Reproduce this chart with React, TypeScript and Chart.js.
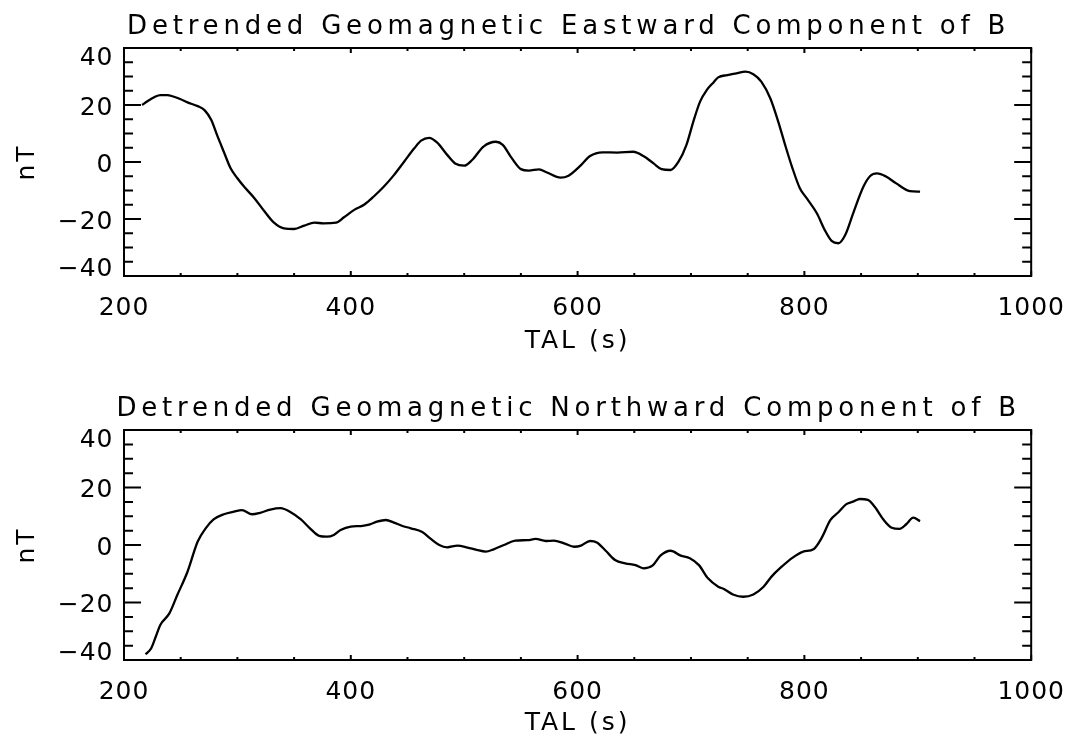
import React, { useEffect, useRef } from 'react';
import { Chart, registerables } from 'chart.js';

Chart.register(...registerables);

const X_MIN = 200;
const X_MAX = 1000;
const Y_MIN = -40;
const Y_MAX = 40;
const xTickValues = [200, 400, 600, 800, 1000];
const xMinorStep = 50;
const yTickValues = [-40, -20, 0, 20, 40];
const yMinorStep = 5;

const xAxisTitle = 'TAL (s)';
const yAxisTitle = 'nT';
const eastTitle = 'Detrended Geomagnetic Eastward Component of B';
const northTitle = 'Detrended Geomagnetic Northward Component of B';

const eastTime = [
  216, 221, 227, 232, 238, 244, 250, 256, 265, 271, 277, 282, 288, 294, 300, 306, 315, 324, 332, 341,
  350, 359, 368, 376, 387, 394, 403, 412, 420, 429, 438, 447, 456, 462, 469, 476, 485, 492, 500, 507,
  517, 528, 534, 541, 550, 557, 566, 573, 585, 592, 603, 611, 622, 635, 649, 658, 667, 674, 682, 689,
  696, 702, 708, 714, 720, 724, 732, 740, 748, 755, 762, 770, 777, 783, 789, 796, 802, 811, 818, 824,
  830, 836, 843, 852, 858, 864, 872, 881, 893, 902,
];
const eastField = [
  20.0, 21.4, 22.8, 23.5, 23.5, 22.9, 22.0, 20.9, 19.6, 18.2, 14.7, 9.5, 3.6, -2.2, -5.7, -8.7, -12.7, -17.4, -21.2, -23.3,
  -23.5, -22.3, -21.3, -21.5, -21.3, -19.4, -16.8, -14.9, -12.2, -8.7, -4.6, 0.1, 4.8, 7.5, 8.5, 6.9, 2.5, -0.5, -1.3, 0.7,
  5.4, 7.1, 6.0, 1.9, -2.5, -3.0, -2.6, -3.7, -5.5, -4.8, -1.1, 2.1, 3.4, 3.3, 3.6, 2.1, -0.5, -2.5, -2.8, 0.1,
  6.0, 14.1, 21.2, 25.3, 28.0, 29.7, 30.5, 31.1, 31.7, 30.8, 28.2, 22.3, 14.1, 6.0, -1.6, -9.2, -12.7, -18.0, -23.9, -27.7,
  -28.5, -25.6, -18.0, -8.7, -4.9, -4.0, -5.1, -7.5, -10.2, -10.4,
];

const northTime = [
  219, 224, 228, 232, 240, 247, 256, 265, 272, 279, 288, 297, 304, 313, 320, 329, 338, 347, 356, 364,
  372, 379, 385, 391, 400, 409, 417, 423, 431, 438, 445, 453, 463, 470, 478, 485, 494, 503, 511, 519,
  526, 535, 545, 556, 563, 572, 579, 588, 597, 603, 611, 617, 625, 633, 642, 651, 658, 666, 673, 682,
  691, 699, 707, 715, 724, 729, 737, 746, 755, 764, 771, 779, 790, 799, 808, 815, 823, 830, 837, 843,
  849, 856, 862, 870, 877, 884, 890, 896, 902,
];
const northField = [
  -38.0, -35.9, -31.9, -27.8, -23.8, -17.4, -9.3, 1.2, 5.8, 8.9, 10.7, 11.6, 12.1, 10.7, 11.2, 12.3, 12.8, 11.4, 8.9, 5.8,
  3.2, 2.9, 3.5, 5.2, 6.4, 6.6, 7.2, 8.1, 8.7, 7.8, 6.7, 5.8, 4.5, 2.3, 0.0, -0.8, -0.2, -0.9, -1.7, -2.3,
  -1.5, 0.0, 1.5, 1.7, 2.1, 1.4, 1.5, 0.6, -0.6, -0.2, 1.4, 0.9, -2.1, -5.2, -6.4, -7.0, -8.1, -7.2, -3.7, -2.0,
  -3.7, -4.6, -7.0, -11.6, -14.5, -15.3, -17.2, -18.0, -17.2, -14.5, -11.0, -7.9, -4.3, -2.3, -1.5, 2.3, 8.7, 11.4, 14.2, 15.1,
  16.0, 15.7, 13.3, 8.7, 6.0, 5.6, 7.3, 9.5, 8.3,
];

const FAMILY = "'DejaVu Sans', sans-serif";
const WEIGHT = '400';
const TICK_SIZE = 25;
const TITLE_SIZE = 26;
const CANVAS_W = 1080;
const CANVAS_H = 360;

const fmt = (v: number) => (v < 0 ? '\u2212' + String(-v) : String(v));

function makeDecor(title: string) {
  return {
    id: 'idlDecor',
    beforeDraw(chart: any) {
      chart.ctx.letterSpacing = '3px';
    },
    afterDatasetsDraw(chart: any) {
      chart.ctx.letterSpacing = '1px';
    },
    afterDraw(chart: any) {
      const ctx = chart.ctx as CanvasRenderingContext2D;
      const { left, right, top, bottom } = chart.chartArea;
      const xs = chart.scales.x;
      const ys = chart.scales.y;
      ctx.save();
      (ctx as any).letterSpacing = '0px';
      ctx.strokeStyle = '#000';
      ctx.lineWidth = 2;
      ctx.strokeRect(left, top, right - left, bottom - top);
      ctx.beginPath();
      for (let v = Y_MIN; v <= Y_MAX; v += yMinorStep) {
        const p = ys.getPixelForValue(v);
        const len = yTickValues.includes(v) ? 17 : 9;
        ctx.moveTo(left, p);
        ctx.lineTo(left + len, p);
        ctx.moveTo(right, p);
        ctx.lineTo(right - len, p);
      }
      for (let v = X_MIN; v <= X_MAX; v += xMinorStep) {
        const p = xs.getPixelForValue(v);
        const len = xTickValues.includes(v) ? 5 : 3;
        ctx.moveTo(p, top);
        ctx.lineTo(p, top + len);
        ctx.moveTo(p, bottom);
        ctx.lineTo(p, bottom - len);
      }
      ctx.stroke();

      ctx.fillStyle = '#000';
      ctx.font = `${WEIGHT} ${TICK_SIZE}px ${FAMILY}`;
      (ctx as any).letterSpacing = '1px';
      ctx.textAlign = 'right';
      ctx.textBaseline = 'middle';
      for (const v of yTickValues) {
        const p = ys.getPixelForValue(v);
        const y = Math.min(Math.max(p + 3, top + 10), bottom - 7);
        ctx.fillText(fmt(v), left - 10.5, y);
      }

      ctx.font = `${WEIGHT} ${TITLE_SIZE}px ${FAMILY}`;
      (ctx as any).letterSpacing = '4.8px';
      ctx.textAlign = 'center';
      ctx.textBaseline = 'alphabetic';
      ctx.fillText(title, (left + right) / 2 - 9, top - 14);
      ctx.restore();
    },
  };
}

type PanelProps = {
  title: string;
  times: number[];
  values: number[];
  offsetTop: number;
  xAxisHeight: number;
};

function Panel({ title, times, values, offsetTop, xAxisHeight }: PanelProps) {
  const ref = useRef<HTMLCanvasElement | null>(null);
  useEffect(() => {
    const canvas = ref.current;
    if (!canvas) return;
    const tickFont = { family: FAMILY, size: TICK_SIZE, weight: WEIGHT as any };
    const chart = new Chart(canvas, {
      type: 'line',
      data: {
        datasets: [
          {
            data: times.map((t, i) => ({ x: t, y: values[i] })),
            borderColor: '#000',
            borderWidth: 2.3,
            pointRadius: 0,
            fill: false,
            cubicInterpolationMode: 'monotone',
          },
        ],
      },
      options: {
        animation: false,
        responsive: false,
        maintainAspectRatio: false,
        devicePixelRatio: 1,
        events: [],
        layout: { padding: { left: 0, right: 46, top: 48, bottom: 0 } },
        plugins: {
          legend: { display: false },
          tooltip: { enabled: false },
          title: { display: false },
        },
        scales: {
          x: {
            type: 'linear',
            min: X_MIN,
            max: X_MAX,
            afterBuildTicks: (s: any) => {
              s.ticks = xTickValues.map((v) => ({ value: v }));
            },
            afterFit: (s: any) => {
              s.height = xAxisHeight;
            },
            ticks: {
              z: 1,
              color: '#000',
              font: tickFont,
              padding: 17,
              maxRotation: 0,
              autoSkip: false,
              callback: (v: any) => fmt(Number(v)),
            },
            grid: { display: false, drawTicks: false },
            border: { display: false },
            title: {
              display: true,
              text: xAxisTitle,
              color: '#000',
              font: tickFont,
              padding: { top: 0, bottom: 4 },
            },
          },
          y: {
            type: 'linear',
            min: Y_MIN,
            max: Y_MAX,
            afterBuildTicks: (s: any) => {
              s.ticks = yTickValues.map((v) => ({ value: v }));
            },
            afterFit: (s: any) => {
              s.width = 124;
            },
            ticks: { display: false },
            grid: { display: false, drawTicks: false },
            border: { display: false },
            title: {
              display: true,
              text: yAxisTitle,
              color: '#000',
              font: tickFont,
              padding: { top: 12, bottom: 0 },
            },
          },
        },
      },
      plugins: [makeDecor(title)],
    } as any);
    return () => {
      chart.destroy();
    };
  }, [title, times, values, xAxisHeight]);
  return (
    <canvas
      ref={ref}
      width={CANVAS_W}
      height={CANVAS_H}
      style={{ position: 'absolute', left: 0, top: offsetTop, width: CANVAS_W, height: CANVAS_H, display: 'block' }}
    />
  );
}

export default function App() {
  return (
    <div style={{ position: 'absolute', left: 0, top: 0, width: 1080, height: 741, background: '#fff', overflow: 'hidden' }}>
      <Panel title={eastTitle} times={eastTime} values={eastField} offsetTop={0} xAxisHeight={84} />
      <Panel title={northTitle} times={northTime} values={northField} offsetTop={382} xAxisHeight={82} />
    </div>
  );
}
